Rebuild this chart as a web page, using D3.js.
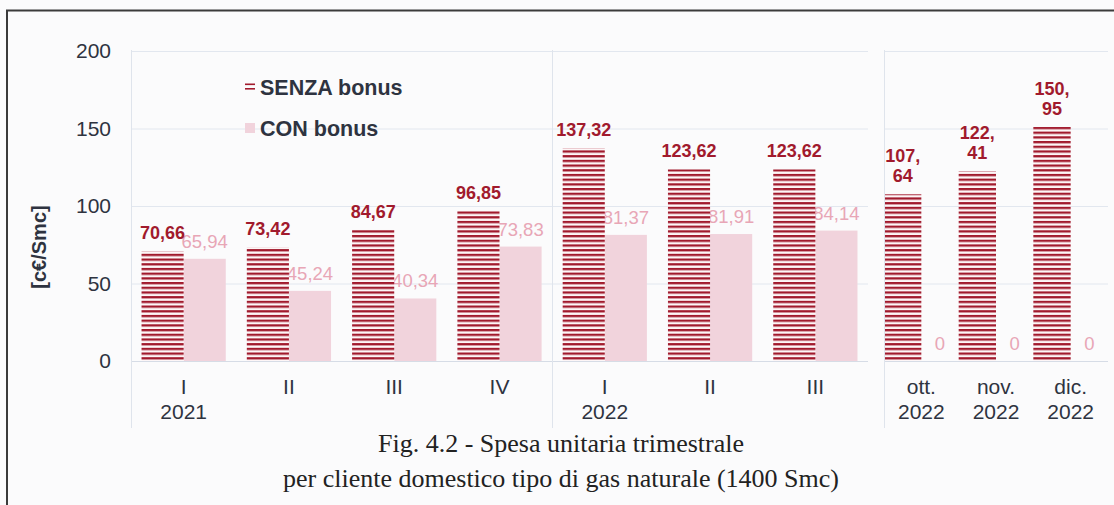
<!DOCTYPE html>
<html>
<head>
<meta charset="utf-8">
<script src="https://cdn.jsdelivr.net/npm/d3@7"></script>
<style>
  body { margin: 0; background: #fbfbfc; }
  svg { display: block; font-family: "Liberation Sans", Arial, sans-serif; }
</style>
</head>
<body>
<svg id="chart" width="1114" height="505"></svg>
<script>
// data
var quarterCats = ["I", "II", "III", "IV", "I", "II", "III"];
var quarterYears = ["2021", "", "", "", "2022", "", ""];
var quarterSenza = [70.66, 73.42, 84.67, 96.85, 137.32, 123.62, 123.62];
var quarterCon = [65.94, 45.24, 40.34, 73.83, 81.37, 81.91, 84.14];
var monthCats = ["ott.", "nov.", "dic."];
var monthYears = ["2022", "2022", "2022"];
var monthSenza = [107.64, 122.41, 150.95];
var monthCon = [0, 0, 0];
var yTicks = [0, 50, 100, 150, 200];
var seriesNames = ["SENZA bonus", "CON bonus"];

var red = "#a11a2d", pink = "#f1d3dc", pinkText = "#e8a6b6", ink = "#2e3340";

var svg = d3.select("#chart");

// hatch pattern for SENZA bars
var pat = svg.append("defs").append("pattern")
	.attr("id", "hatch")
	.attr("patternUnits", "userSpaceOnUse")
	.attr("width", 10)
	.attr("height", 4.7);
pat.append("rect").attr("width", 10).attr("height", 4.7).attr("fill", "#fdf6f7");
pat.append("rect").attr("width", 10).attr("height", 2.3).attr("fill", red);

// frame
svg.append("path")
	.attr("d", "M7,505 V10.5 H1114")
	.attr("fill", "none")
	.attr("stroke", "#3b3b3b")
	.attr("stroke-width", 2);

var y = d3.scaleLinear().domain([0, 200]).range([361, 51]);

var fmt = function(v){ return v === 0 ? "0" : v.toFixed(2).replace(".", ","); };

function panel(cats, years, senza, con, x0, x1, pIn, pOut, split){
	var x = d3.scaleBand().domain(d3.range(cats.length)).range([x0, x1])
		.paddingInner(pIn).paddingOuter(pOut);
	var xs = d3.scaleBand().domain([0, 1]).range([0, x.bandwidth()]);
	var g = svg.append("g");

	// gridlines
	g.selectAll("line.grid").data(yTicks).enter().append("line")
		.attr("x1", x0).attr("x2", x1)
		.attr("y1", function(d){ return y(d) + 0.5; })
		.attr("y2", function(d){ return y(d) + 0.5; })
		.attr("stroke", function(d){ return d === 0 ? "#d6dce6" : "#e2e7ef"; });

	// con labels sit under the senza bars
	g.selectAll("text.con").data(con).enter().append("text")
		.attr("x", function(d, i){ return x(i) + xs(1) + xs.bandwidth() / 2; })
		.attr("y", function(d){ return y(d) - 11; })
		.attr("text-anchor", "middle")
		.attr("font-size", 18.5)
		.attr("fill", pinkText)
		.text(fmt);

	g.selectAll("rect.con").data(con).enter().append("rect")
		.attr("x", function(d, i){ return x(i) + xs(1); })
		.attr("y", function(d){ return y(d); })
		.attr("width", xs.bandwidth())
		.attr("height", function(d){ return y(0) - y(d); })
		.attr("fill", pink);

	g.selectAll("rect.senza").data(senza).enter().append("rect")
		.attr("x", function(d, i){ return x(i) + xs(0); })
		.attr("y", function(d){ return y(d); })
		.attr("width", xs.bandwidth())
		.attr("height", function(d){ return y(0) - y(d); })
		.attr("fill", "url(#hatch)");

	var lab = g.selectAll("text.senza").data(senza).enter().append("text")
		.attr("x", function(d, i){ return x(i) + xs(0) + xs.bandwidth() / 2; })
		.attr("y", function(d){ return y(d) - (split ? 32 : 12); })
		.attr("text-anchor", "middle")
		.attr("font-size", 18)
		.attr("font-weight", "bold")
		.attr("fill", red);
	if(split){
		lab.each(function(d){
			var parts = fmt(d).split(",");
			var t = d3.select(this);
			t.append("tspan").text(parts[0] + ",");
			t.append("tspan").attr("x", t.attr("x")).attr("dy", 20).text(parts[1]);
		});
	} else {
		lab.text(fmt);
	}

	// category labels
	g.selectAll("text.cat").data(cats).enter().append("text")
		.attr("x", function(d, i){ return x(i) + x.bandwidth() / 2; })
		.attr("y", 394)
		.attr("text-anchor", "middle")
		.attr("font-size", 21)
		.attr("fill", ink)
		.text(function(d){ return d; });
	g.selectAll("text.year").data(years).enter().append("text")
		.attr("x", function(d, i){ return x(i) + x.bandwidth() / 2; })
		.attr("y", 419)
		.attr("text-anchor", "middle")
		.attr("font-size", 21)
		.attr("fill", ink)
		.text(function(d){ return d; });

	return x;
}

var xq = panel(quarterCats, quarterYears, quarterSenza, quarterCon, 131, 868, 0.2, 0.1, false);
var xm = panel(monthCats, monthYears, monthSenza, monthCon, 884, 1108, 0, 0, true);

// vertical separators
var seps = [131, xq(4) - xq.step() * xq.paddingInner() / 2, 884];
svg.selectAll("line.sep").data(seps).enter().append("line")
	.attr("x1", function(d){ return Math.round(d) + 0.5; })
	.attr("x2", function(d){ return Math.round(d) + 0.5; })
	.attr("y1", 50).attr("y2", 428)
	.attr("stroke", "#dfe4ec");

// y axis
var yAxis = svg.append("g")
	.attr("transform", "translate(131,0)")
	.call(d3.axisLeft(y).tickValues(yTicks).tickSize(0).tickPadding(20));
yAxis.select(".domain").remove();
yAxis.attr("font-family", null);
yAxis.selectAll("text")
	.attr("font-size", 21)
	.attr("fill", ink);

svg.append("text")
	.attr("transform", "translate(46,247) rotate(-90)")
	.attr("text-anchor", "middle")
	.attr("font-size", 20)
	.attr("font-weight", "bold")
	.attr("fill", ink)
	.text("[c€/Smc]");

// legend
var leg = svg.append("g");
leg.append("rect").attr("x", 245).attr("y", 83.5).attr("width", 10).attr("height", 1.6).attr("fill", red);
leg.append("rect").attr("x", 245).attr("y", 88).attr("width", 10).attr("height", 1.6).attr("fill", red);
leg.append("rect").attr("x", 245).attr("y", 123).attr("width", 10).attr("height", 10).attr("fill", pink);
leg.selectAll("text").data(seriesNames).enter().append("text")
	.attr("x", 260)
	.attr("y", function(d, i){ return 95 + i * 41; })
	.attr("font-size", 21.5)
	.attr("font-weight", "bold")
	.attr("fill", ink)
	.text(function(d){ return d; });

// caption
var cap = svg.append("text")
	.attr("text-anchor", "middle")
	.style("font-family", "'Liberation Serif', 'Times New Roman', serif")
	.attr("font-size", 26)
	.attr("fill", "#222");
cap.append("tspan").attr("x", 561).attr("y", 452).text("Fig. 4.2 - Spesa unitaria trimestrale");
cap.append("tspan").attr("x", 561).attr("y", 487).text("per cliente domestico tipo di gas naturale (1400 Smc)");
</script>
</body>
</html>
